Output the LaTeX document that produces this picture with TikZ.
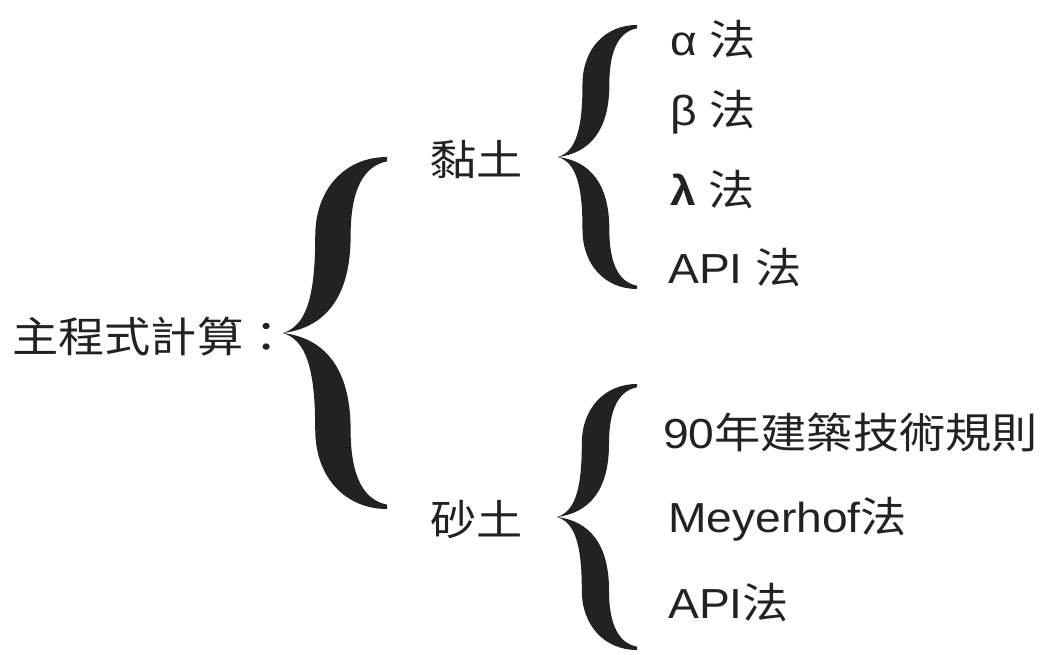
\documentclass[tikz,border=0pt]{standalone}
\usepackage{fontspec}
\setmainfont{Liberation Sans}[FakeStretch=1.1]
\newfontfamily\cjk{Noto Sans CJK TC}[FakeStretch=1.1]
\definecolor{ink}{HTML}{222222}
\tikzset{
  bracefill/.pic={
    \fill[ink] (1,1) .. controls (0.6,1.0) and (0.31,0.82) .. (0.31,0.55)
      .. controls (0.31,0.2) and (0.22,0.04) .. (0,0)
      .. controls (0.22,-0.04) and (0.31,-0.2) .. (0.31,-0.55)
      .. controls (0.31,-0.82) and (0.6,-1.0) .. (1,-1)
      -- (1,-0.975)
      .. controls (0.78,-0.95) and (0.65,-0.82) .. (0.65,-0.55)
      .. controls (0.65,-0.2) and (0.4,-0.03) .. (0,0)
      .. controls (0.4,0.03) and (0.65,0.2) .. (0.65,0.55)
      .. controls (0.65,0.82) and (0.78,0.95) .. (1,0.975) -- cycle;
  },
  txt/.style={anchor=base west, inner sep=0pt, text=ink, font=\fontsize{42}{48}\selectfont}
}
\begin{document}
\begin{tikzpicture}[x=1pt,y=1pt]
\useasboundingbox (0,0) rectangle (1053,655);
% texts
\node[txt] (main) at (12,302) {\cjk 主程式計算：};
\node[txt] (clay) at (430,479) {\cjk 黏土};
\node[txt] (sand) at (430,119) {\cjk 砂土};
\node[txt] (a) at (670,599) {α {\cjk 法}};
\node[txt] (b) at (670,529) {β {\cjk 法}};
\node[txt] (l) at (670,449) {\textbf{λ} {\cjk 法}};
\node[txt] (api1) at (668,371) {API {\cjk 法}};
\node[txt] (r90) at (663,206) {90{\cjk 年建築技術規則}};
\node[txt] (mey) at (668,122) {Meyerhof{\cjk 法}};
\node[txt] (api2) at (668,36) {API{\cjk 法}};
% braces
\pic[xscale=104,yscale=176] at (283,322) {bracefill};
\pic[xscale=79,yscale=132] at (558,498) {bracefill};
\pic[xscale=80,yscale=133] at (557,138) {bracefill};
\end{tikzpicture}
\end{document}
